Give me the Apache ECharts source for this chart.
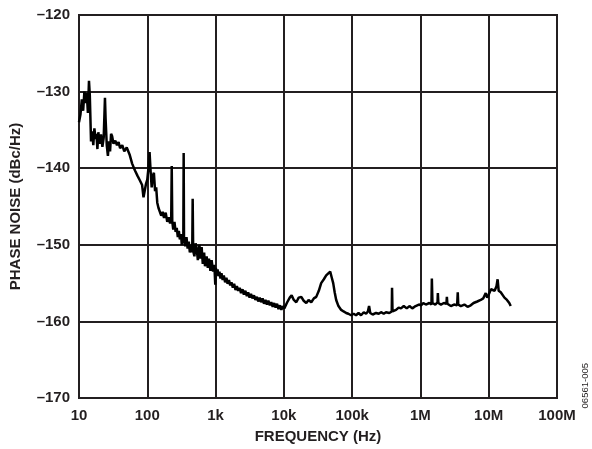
<!DOCTYPE html>
<html>
<head>
<meta charset="utf-8">
<script src="https://cdn.jsdelivr.net/npm/echarts@6/dist/echarts.min.js"></script>
<style>
html,body{margin:0;padding:0;background:#fff;}
#chart{width:592px;height:449px;}
</style>
</head>
<body>
<div id="chart"></div>
<script>
const xTickValues = [10, 100, 1000, 10000, 100000, 1000000, 10000000, 100000000];
const xTickLabels = ['10', '100', '1k', '10k', '100k', '1M', '10M', '100M'];
const yTickValues = [-170, -160, -150, -140, -130, -120];
const yTickLabels = ['–170', '–160', '–150', '–140', '–130', '–120'];

const freqHz = [
 10,10.5,11,11.5,12,12.5,13,13.5,14,14.4,15,15.6,16.2,16.8,17.5,18,18.6,19.2,20,21,22,23,24,24.5,25.5,26.5,27.5,28.5,29.5,30.5,
 32,34,36,38,40,43,46,50,55,60,66,72,78,84,88,92,96,100,104,108,112,116,120,125,130,135,140,146,152,160,
 168,176,186,196,206,216,224,228,232,240,250,260,270,280,290,300,312,320,330,337,341,345,360,375,390,405,420,440,455,462,
 470,490,510,530,550,580,600,625,650,680,700,740,770,800,840,875,920,960,990,
 1010,1040,1070,1100,1140,1180,1220,1270,1320,1380,1440,1500,1570,1640,1710,1790,1870,1960,2050,2150,2250,2360,2480,2600,2730,2870,3000,3150,3300,3470,
 3650,3830,4020,4220,4430,4650,4880,5120,5380,5650,5930,6230,6540,6870,7210,7570,7950,8350,8770,9200,9660,10150,
 11200,12200,13000,14000,15200,16500,18000,19500,21300,
 23000,25200,27500,29800,32500,35200,38500,41700,44500,47700,50000,52800,55500,58400,63000,69100,75000,81700,88000,96600,105000,114000,124000,135000,148000,160000,170000,177000,184000,200000,
 224000,245000,265000,290000,313000,350000,380000,384000,390000,439000,480000,519000,570000,630000,690000,760000,850000,950000,1020000,1100000,1200000,1350000,1450000,1470000,1500000,1650000,1780000,1800000,1830000,2000000,
 2200000,2400000,2440000,2480000,2790000,3100000,3450000,3520000,3580000,3900000,4400000,4900000,5460000,6000000,6800000,7640000,8300000,9040000,9500000,10000000,10800000,11400000,12200000,13000000,13500000,14000000,15000000,16000000,17000000,18500000,
 20000000,21000000
];
const noiseDbc = [
 -134.0,-133.0,-131.0,-132.5,-130.0,-131.5,-130.2,-132.8,-128.6,-130.5,-136.5,-135.2,-137.0,-134.8,-136.2,-135.5,-137.5,-135.3,-136.8,-135.6,-137.2,-136.0,-130.8,-133.5,-137.0,-138.4,-136.5,-137.8,-135.5,-135.8,
 -136.8,-136.4,-137.0,-136.6,-137.4,-137.0,-137.8,-137.3,-138.2,-139.4,-140.3,-141.0,-141.6,-142.2,-143.8,-144.0,-142.0,-141.5,-140.0,-137.9,-140.5,-142.5,-141.0,-140.6,-143.0,-142.5,-144.5,-145.2,-145.0,-146.2,
 -145.7,-146.5,-145.8,-147.0,-146.4,-147.2,-146.8,-139.7,-146.9,-148.0,-147.0,-148.3,-147.8,-149.0,-148.2,-149.3,-148.6,-150.0,-148.8,-149.5,-138.0,-149.4,-150.2,-149.0,-150.5,-149.6,-151.0,-150.0,-151.0,-144.0,
 -150.8,-151.5,-149.8,-150.5,-152.0,-150.0,-151.8,-150.3,-152.5,-151.0,-152.8,-151.5,-153.0,-151.8,-153.4,-152.0,-153.5,-152.6,-155.2,
 -153.0,-154.0,-153.2,-154.1,-153.5,-154.4,-153.7,-154.6,-154.0,-154.9,-154.3,-155.1,-154.6,-155.3,-154.9,-155.6,-155.1,-155.9,-155.4,-156.0,-155.6,-156.3,-155.8,-156.5,-156.0,-156.7,-156.2,-156.9,-156.4,-157.0,
 -156.6,-157.2,-156.8,-157.4,-156.9,-157.5,-157.0,-157.7,-157.2,-157.8,-157.3,-157.9,-157.5,-158.1,-157.6,-158.2,-157.7,-158.4,-157.9,-158.5,-158.0,-158.3,
 -157.5,-156.9,-156.6,-157.2,-157.5,-156.9,-156.8,-157.3,-157.6,
 -157.2,-157.5,-157.0,-156.8,-156.0,-155.0,-154.5,-154.0,-153.8,-153.5,-154.2,-155.0,-156.2,-157.2,-158.0,-158.5,-158.7,-158.9,-159.0,-159.2,-159.0,-159.2,-158.9,-159.2,-158.8,-159.0,-158.7,-158.0,-158.9,-159.1,
 -158.9,-159.0,-158.8,-159.0,-158.8,-158.9,-158.7,-155.6,-158.7,-158.5,-158.2,-158.3,-158.0,-158.3,-158.0,-158.3,-158.0,-157.8,-157.9,-157.6,-157.8,-157.6,-157.8,-154.4,-157.6,-157.8,-157.5,-156.3,-157.6,-157.8,
 -157.6,-157.7,-156.8,-157.7,-158.0,-157.8,-157.9,-156.2,-157.8,-158.0,-157.8,-158.1,-157.9,-157.6,-157.4,-157.2,-157.0,-156.3,-156.9,-156.5,-155.8,-155.6,-156.0,-155.4,-154.5,-156.0,-156.2,-156.3,-156.9,-157.2,
 -157.6,-158.0
];

const seriesData = freqHz.map((f, i) => [f, noiseDbc[i]]);
const font = '"Liberation Sans", Arial, sans-serif';

const chart = echarts.init(document.getElementById('chart'), null, {renderer: 'canvas'});
chart.setOption({
  animation: false,
  backgroundColor: '#ffffff',
  grid: {left: 77, right: 35, top: 15, bottom: 51, show: true, borderColor: '#231f20', borderWidth: 2},
  xAxis: {
    type: 'log', logBase: 10, min: xTickValues[0], max: xTickValues[xTickValues.length - 1],
    name: 'FREQUENCY (Hz)', nameLocation: 'middle', nameGap: 31,
    nameTextStyle: {fontFamily: font, fontWeight: 'bold', fontSize: 15, color: '#231f20'},
    axisLine: {show: true, lineStyle: {color: '#231f20', width: 2}},
    axisTick: {show: false},
    splitLine: {show: true, lineStyle: {color: '#231f20', width: 2}},
    minorTick: {show: false}, minorSplitLine: {show: false},
    axisLabel: {
      margin: 10, fontFamily: font, fontWeight: 'bold', fontSize: 15, color: '#231f20',
      formatter: v => { const i = xTickValues.findIndex(t => Math.abs(Math.log10(t) - Math.log10(v)) < 1e-6); return i >= 0 ? xTickLabels[i] : ''; }
    }
  },
  yAxis: {
    type: 'value', min: -170, max: -120, interval: 10,
    name: 'PHASE NOISE (dBc/Hz)', nameLocation: 'middle', nameGap: 56, nameRotate: 90,
    nameTextStyle: {fontFamily: font, fontWeight: 'bold', fontSize: 15, color: '#231f20'},
    axisLine: {show: true, lineStyle: {color: '#231f20', width: 2}},
    axisTick: {show: false},
    splitLine: {show: true, lineStyle: {color: '#231f20', width: 2}},
    axisLabel: {
      margin: 9, fontFamily: font, fontWeight: 'bold', fontSize: 15, color: '#231f20',
      formatter: v => { const i = yTickValues.indexOf(Math.round(v)); return i >= 0 ? yTickLabels[i] : ''; }
    }
  },
  series: [{
    type: 'line', data: seriesData, symbol: 'none', smooth: false,
    lineStyle: {color: '#000000', width: 2.5}
  }],
  graphic: [{
    type: 'text', left: 580, top: 363, rotation: Math.PI / 2,
    style: {text: '06561-005', fontFamily: font, fontSize: 9.5, fill: '#231f20'}
  }]
});
</script>
</body>
</html>
